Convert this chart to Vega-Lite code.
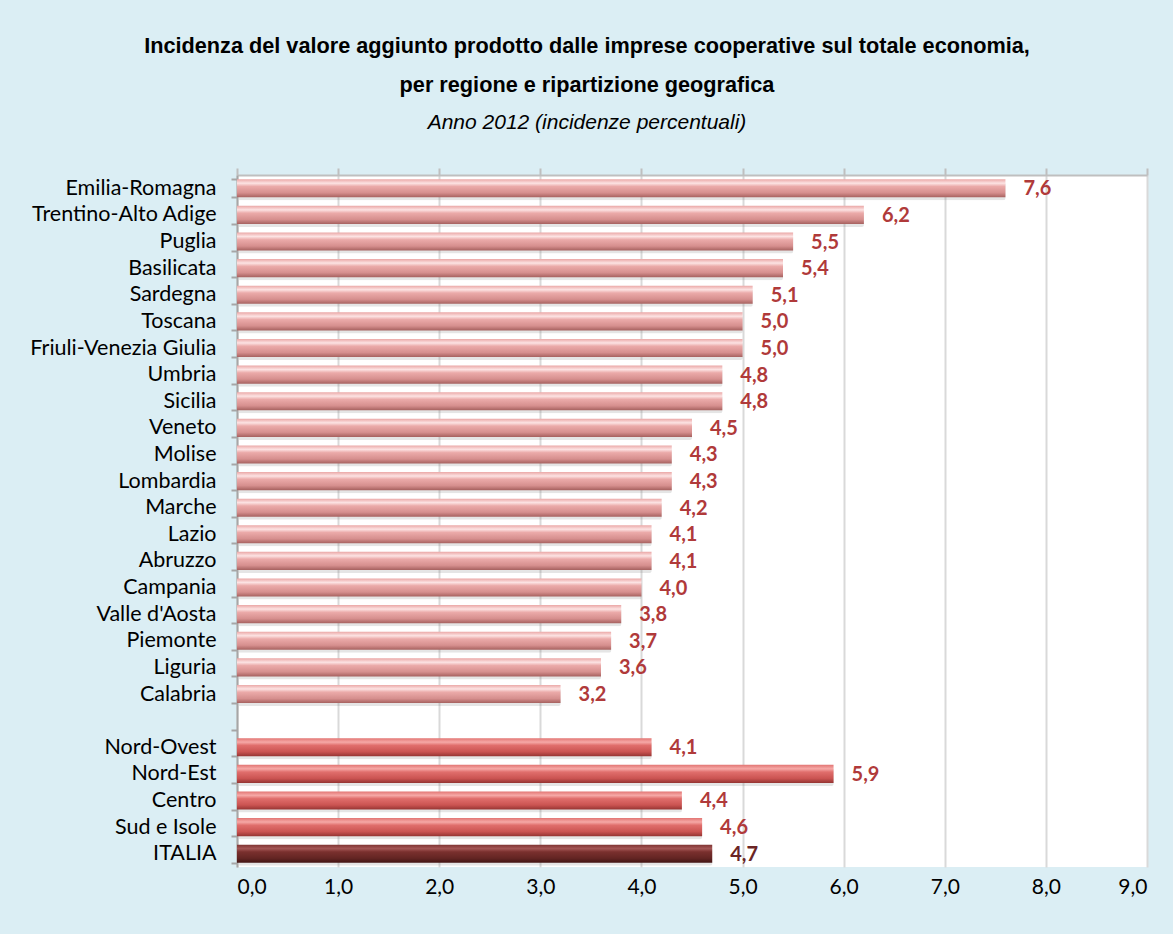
{
  "$schema": "https://vega.github.io/schema/vega-lite/v6.json",
  "width": 910,
  "height": 692,
  "autosize": {"type": "none"},
  "padding": {"left": 237, "top": 175, "right": 26, "bottom": 67},
  "background": "#DBEEF4",
  "title": {
    "text": ["Incidenza del valore aggiunto prodotto dalle imprese cooperative sul totale economia,", "per regione e ripartizione geografica"],
    "subtitle": "Anno 2012 (incidenze percentuali)",
    "anchor": "middle",
    "frame": "group",
    "dx": -105,
    "offset": 31,
    "font": "Liberation Sans, Arial, sans-serif",
    "fontSize": 21.7,
    "fontWeight": "bold",
    "color": "#000000",
    "lineHeight": 39,
    "subtitleFont": "Liberation Sans, Arial, sans-serif",
    "subtitleFontSize": 21,
    "subtitleFontStyle": "italic",
    "subtitleColor": "#000000",
    "subtitlePadding": 15
  },
  "config": {
    "view": {"fill": "#FFFFFF", "stroke": null},
    "locale": {"number": {"decimal": ",", "thousands": ".", "grouping": [3], "currency": ["", " €"]}}
  },
  "data": {
    "values": [
      {"regione": "Emilia-Romagna", "valore": 7.6, "gruppo": "regione"},
      {"regione": "Trentino-Alto Adige", "valore": 6.2, "gruppo": "regione"},
      {"regione": "Puglia", "valore": 5.5, "gruppo": "regione"},
      {"regione": "Basilicata", "valore": 5.4, "gruppo": "regione"},
      {"regione": "Sardegna", "valore": 5.1, "gruppo": "regione"},
      {"regione": "Toscana", "valore": 5.0, "gruppo": "regione"},
      {"regione": "Friuli-Venezia Giulia", "valore": 5.0, "gruppo": "regione"},
      {"regione": "Umbria", "valore": 4.8, "gruppo": "regione"},
      {"regione": "Sicilia", "valore": 4.8, "gruppo": "regione"},
      {"regione": "Veneto", "valore": 4.5, "gruppo": "regione"},
      {"regione": "Molise", "valore": 4.3, "gruppo": "regione"},
      {"regione": "Lombardia", "valore": 4.3, "gruppo": "regione"},
      {"regione": "Marche", "valore": 4.2, "gruppo": "regione"},
      {"regione": "Lazio", "valore": 4.1, "gruppo": "regione"},
      {"regione": "Abruzzo", "valore": 4.1, "gruppo": "regione"},
      {"regione": "Campania", "valore": 4.0, "gruppo": "regione"},
      {"regione": "Valle d'Aosta", "valore": 3.8, "gruppo": "regione"},
      {"regione": "Piemonte", "valore": 3.7, "gruppo": "regione"},
      {"regione": "Liguria", "valore": 3.6, "gruppo": "regione"},
      {"regione": "Calabria", "valore": 3.2, "gruppo": "regione"},
      {"regione": "Nord-Ovest", "valore": 4.1, "gruppo": "ripartizione"},
      {"regione": "Nord-Est", "valore": 5.9, "gruppo": "ripartizione"},
      {"regione": "Centro", "valore": 4.4, "gruppo": "ripartizione"},
      {"regione": "Sud e Isole", "valore": 4.6, "gruppo": "ripartizione"},
      {"regione": "ITALIA", "valore": 4.7, "gruppo": "italia"}
    ]
  },
  "encoding": {
    "y": {
      "field": "regione",
      "type": "nominal",
      "title": null,
      "scale": {
        "domain": ["Emilia-Romagna", "Trentino-Alto Adige", "Puglia", "Basilicata", "Sardegna", "Toscana", "Friuli-Venezia Giulia", "Umbria", "Sicilia", "Veneto", "Molise", "Lombardia", "Marche", "Lazio", "Abruzzo", "Campania", "Valle d'Aosta", "Piemonte", "Liguria", "Calabria", " ", "Nord-Ovest", "Nord-Est", "Centro", "Sud e Isole", "ITALIA"],
        "paddingInner": 0.32,
        "paddingOuter": 0.16
      },
      "axis": {
        "domainColor": "#A6A6A6",
        "domainWidth": 2,
        "tickBand": "extent",
        "tickColor": "#A6A6A6",
        "tickWidth": 2,
        "tickSize": 6,
        "labelPadding": 15,
        "labelLimit": 400,
        "labelFont": "Lato, Open Sans, sans-serif",
        "labelFontSize": 21.5,
        "labelColor": "#000000",
        "grid": false
      }
    }
  },
  "layer": [
    {
      "mark": {"type": "bar", "color": "#7F7F7F", "opacity": 0.2, "yOffset": 3, "xOffset": 2, "cornerRadius": 2},
      "encoding": {
        "x": {
          "field": "valore",
          "type": "quantitative",
          "scale": {"domain": [0, 9]},
          "title": null,
          "axis": {
            "orient": "bottom",
            "values": [0, 1, 2, 3, 4, 5, 6, 7, 8, 9],
            "format": ".1f",
            "domain": false,
            "ticks": false,
            "labelPadding": 9,
            "labelFont": "Lato, Open Sans, sans-serif",
            "labelFontSize": 21,
            "labelColor": "#000000",
            "grid": true,
            "gridColor": "#D9D9D9",
            "gridWidth": 2
          }
        }
      }
    },
    {
      "transform": [{"filter": "datum.gruppo === 'regione'"}],
      "mark": {
        "type": "bar",
        "color": {
          "gradient": "linear", "x1": 0, "y1": 0, "x2": 0, "y2": 1,
          "stops": [
            {"offset": 0, "color": "#EBA8A7"},
            {"offset": 0.22, "color": "#FCE3E3"},
            {"offset": 0.4, "color": "#EBAAA9"},
            {"offset": 0.75, "color": "#D68F8E"},
            {"offset": 1, "color": "#A6615F"}
          ]
        }
      },
      "encoding": {
        "x": {
          "field": "valore",
          "type": "quantitative",
          "scale": {"domain": [0, 9]},
          "title": null,
          "axis": {
            "orient": "top",
            "values": [0, 1, 2, 3, 4, 5, 6, 7, 8, 9],
            "labels": false,
            "grid": false,
            "domain": true,
            "domainColor": "#BFBFBF",
            "domainWidth": 2,
            "ticks": true,
            "tickColor": "#BFBFBF",
            "tickWidth": 2,
            "tickSize": 7
          }
        }
      }
    },
    {
      "transform": [{"filter": "datum.gruppo === 'ripartizione'"}],
      "mark": {
        "type": "bar",
        "color": {
          "gradient": "linear", "x1": 0, "y1": 0, "x2": 0, "y2": 1,
          "stops": [
            {"offset": 0, "color": "#E27573"},
            {"offset": 0.22, "color": "#F6A9A7"},
            {"offset": 0.4, "color": "#E06E6C"},
            {"offset": 0.75, "color": "#CB5452"},
            {"offset": 1, "color": "#963533"}
          ]
        }
      },
      "encoding": {
        "x": {"field": "valore", "type": "quantitative", "scale": {"domain": [0, 9]}, "axis": null}
      }
    },
    {
      "transform": [{"filter": "datum.gruppo === 'italia'"}],
      "mark": {
        "type": "bar",
        "color": {
          "gradient": "linear", "x1": 0, "y1": 0, "x2": 0, "y2": 1,
          "stops": [
            {"offset": 0, "color": "#7E3432"},
            {"offset": 0.22, "color": "#A35655"},
            {"offset": 0.4, "color": "#7A302E"},
            {"offset": 0.75, "color": "#632523"},
            {"offset": 1, "color": "#431514"}
          ]
        }
      },
      "encoding": {
        "x": {"field": "valore", "type": "quantitative", "scale": {"domain": [0, 9]}, "axis": null}
      }
    },
    {
      "mark": {"type": "text", "align": "left", "baseline": "middle", "dx": 18, "dy": 1, "font": "Lato, Open Sans, sans-serif", "fontSize": 20, "fontWeight": "bold"},
      "encoding": {
        "x": {"field": "valore", "type": "quantitative", "scale": {"domain": [0, 9]}, "axis": null},
        "text": {"field": "valore", "type": "quantitative", "format": ".1f"},
        "color": {
          "condition": {"test": "datum.gruppo === 'italia'", "value": "#6B2525"},
          "value": "#B03A3A"
        }
      }
    }
  ],
  "resolve": {"axis": {"x": "independent"}}
}
